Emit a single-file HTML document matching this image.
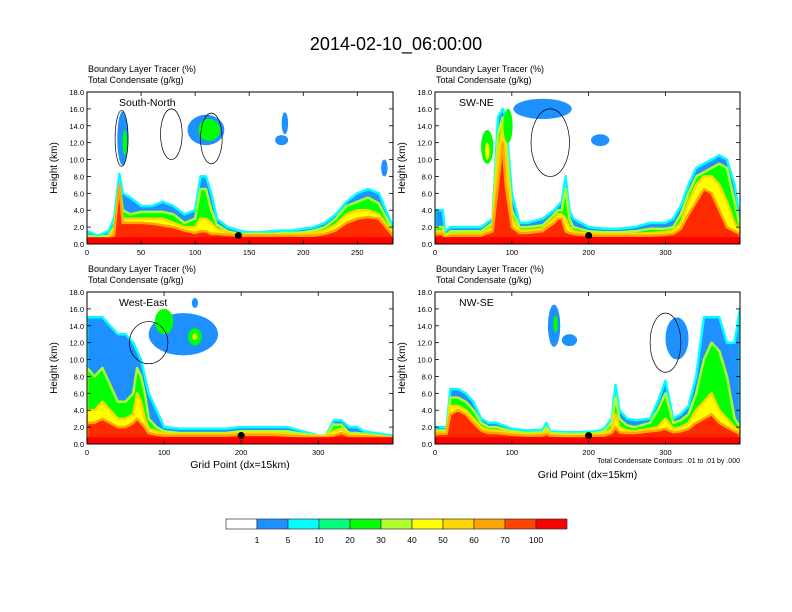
<!DOCTYPE html>
<html><head><meta charset="utf-8">
<style>
body{margin:0;background:#fff;}
svg{display:block;font-family:"Liberation Sans",sans-serif;}
</style></head>
<body>
<svg id="fig" width="792" height="612" viewBox="0 0 792 612" xmlns="http://www.w3.org/2000/svg">
<rect width="792" height="612" fill="#fff"/>
<text x="396" y="50" font-size="18" text-anchor="middle">2014-02-10_06:00:00</text>
<g id="panels"></g>
<g id="colorbar"></g>
</svg>
<script>
// ---- data ----
const levelColors = ["#1e90ff","#00ff00","#ffff00","#ff2a00"];
const cbColors = ["#ffffff","#1e90ff","#00ffff","#00ff80","#00ff00","#adff2f","#ffff00","#ffd700","#ffa500","#ff4500","#ff0000"];
const cbLabels = ["1","5","10","20","30","40","50","60","70","100"];
const yTicks = [0,2,4,6,8,10,12,14,16,18];

const p1x = [0,10,20,25,30,33,40,50,60,70,80,90,100,105,110,115,120,130,140,150,160,170,180,190,200,210,220,230,240,250,260,270,283];
const p1blue = [1.5,1.0,1.5,3,8.3,6,5.5,4.5,4.5,5,4.5,3.5,4,8,8,6,3,2,1.6,1.4,1.4,1.5,1.6,1.6,1.8,2,2.5,3.5,5,6,6.5,6,2];
const p1green = [1.0,0.8,1.0,2,7,4,3.5,3.8,3.8,3.8,3.5,2.5,3,6.5,6.5,4,2.3,1.5,1.2,1.2,1.2,1.2,1.3,1.3,1.4,1.6,2,3,4.5,5,5.5,4.8,1.5];
const p1yellow = [0.8,0.6,0.8,1.5,6,3,3,3,3,3,2.5,2,2,3,3,2.5,1.8,1.3,1.1,1.1,1.1,1.1,1.1,1.1,1.2,1.3,1.6,2.3,3.5,4,4,3.5,1.2];
const p1red = [0.6,0.5,0.6,1,7,2.5,2.5,2.5,2.4,2.2,2.0,1.6,1.3,1.5,1.5,1.2,1.2,1.1,1.0,1.0,1.0,1.0,1.0,1.0,1.0,1.0,1.2,1.6,2.5,3,3.2,3,1];
const p1blobs = [[33,12.5,5,3.2,0],[35,12,2,1.5,1],[110,13.5,17,1.8,0],[113,13.5,10,1.3,1],[180,12.3,6,0.6,0],[183,14.3,3,1.3,0],[275,9,3,1,0]];
const p1lines = [[78,13,10,3],[115,12.5,10,3],[32,12.5,6,3.3]];

const p2x = [0,10,13,20,40,60,75,82,88,92,100,110,120,140,155,160,165,170,175,180,200,220,240,260,280,300,310,320,330,340,350,360,370,380,390,397];
const p2blue = [4,4,1.5,2,2,2,3,15,16,15,6,2.5,2.5,3,4,4.5,5,8,4,3,2,1.8,1.8,2,2.5,2.5,3,4.5,7,9,9.5,10,10.5,10,7,3];
const p2green = [2,2,1,1.5,1.5,1.5,2.5,13,15,13,4,2,2,2.2,3.5,4,4,6.5,3,2,1.5,1.4,1.4,1.5,1.8,1.8,2,3.5,6,8,8.5,9,9.5,9,5,2];
const p2yellow = [1.5,1.5,0.8,1.2,1.2,1.2,2,10,14,10,3,1.6,1.6,1.8,3,3.5,3.5,3,2,1.5,1.2,1.2,1.2,1.2,1.3,1.4,1.6,2.5,5,7,8,8,7,5,2.5,1.5];
const p2red = [1.2,1.2,0.6,1,1,1,1.5,7,12,7,2,1.3,1.3,1.5,2.5,3,3,1.5,1.3,1.2,1,1,1,1,1,1.1,1.2,1.8,3.5,5,6.5,6,4,2,1.5,1.2];
const p2blobs = [[140,16,38,1.2,0],[215,12.3,12,0.7,0],[68,11.5,8,2,1],[68,11,3,1,2],[95,14,6,2,1]];
const p2lines = [[150,12,25,4]];

const p3x = [0,10,20,30,40,50,60,65,70,75,80,90,100,120,140,160,180,200,220,240,260,280,300,310,320,330,340,350,360,380,397];
const p3blue = [15,15,15,14,13,13,12,11,10,8,6,4,2,1.8,1.8,1.8,1.8,2,2,2,2,1.5,1,1,2.8,2.8,2,2,1.5,1.2,1];
const p3green = [9,8,9,7,5,5,6,9,8,6,3,2,1.5,1.3,1.3,1.3,1.3,1.5,1.5,1.5,1.5,1.2,1,1,2.3,2.3,1.3,1.3,1.2,1,0.8];
const p3yellow = [4,4,5,4,3,3,3.5,6,5,3,1.8,1.5,1.2,1.2,1.2,1.2,1.2,1.3,1.3,1.3,1.2,1,0.9,0.9,1.5,1.8,1.1,1.1,1,0.9,0.8];
const p3red = [2.5,2.5,3,2.5,2,2,2.5,3,2.5,2,1.3,1.1,1,1,1,1,1,1.1,1.1,1.1,1,0.9,0.8,0.8,1,1.3,0.9,0.9,0.9,0.8,0.7];
const p3blobs = [[125,13,45,2.5,0],[100,14.5,12,1.5,1],[140,12.7,9,1,1],[140,12.7,3,0.4,2],[140,16.7,4,0.6,0]];
const p3lines = [[80,12,25,2.5]];

const p4x = [0,15,20,30,40,50,60,70,80,100,120,140,145,150,170,190,210,220,230,235,240,250,260,280,290,300,310,320,330,340,350,360,370,380,390,397];
const p4blue = [2,2,6.5,6.5,6,5,3,2.5,2.5,1.8,1.6,1.7,2.5,1.5,1.4,1.4,1.5,1.8,3,7,4,3,2.8,3,5,7.5,3,3.5,4.5,8,15,15,15,12,12,16];
const p4green = [1.6,1.6,5.5,5.5,5,4,2.5,2,2,1.5,1.3,1.4,2,1.3,1.2,1.2,1.3,1.5,2.5,5.5,3,2.2,2,2.5,4,6,2.5,2.8,3.5,6,10,12,11,8,3,2];
const p4yellow = [1.4,1.4,4.5,4.5,4,3,2,1.6,1.6,1.3,1.1,1.2,1.6,1.1,1.0,1.0,1.1,1.2,1.8,3.5,2,1.6,1.5,1.8,2,3,1.8,2,2.5,4,5,6,4,3,2,1.5];
const p4red = [1.2,1.2,3.5,4,3.5,2.5,1.6,1.3,1.3,1.1,1,1,1.2,1,0.9,0.9,1,1,1.3,2,1.4,1.3,1.3,1.5,1.6,1.8,1.4,1.5,1.8,2.5,3,3.5,2.5,2,1.5,1.2];
const p4blobs = [[155,14,8,2.5,0],[157,14.2,3,1,1],[175,12.3,10,0.7,0],[315,12.5,15,2.5,0]];
const p4lines = [[300,12,20,3.5]];

const panels = [
 {name:"south-north",label:"South-North",x0:87,x1:393,y0:92,y1:244,xmax:283,xt:[0,50,100,150,200,250],xs:p1x,bands:[p1blue,p1green,p1yellow,p1red],blobs:p1blobs,lines:p1lines,dot:140,xtitle:null},
 {name:"sw-ne",label:"SW-NE",x0:435,x1:740,y0:92,y1:244,xmax:397,xt:[0,100,200,300],xs:p2x,bands:[p2blue,p2green,p2yellow,p2red],blobs:p2blobs,lines:p2lines,dot:200,xtitle:null},
 {name:"west-east",label:"West-East",x0:87,x1:393,y0:292,y1:444,xmax:397,xt:[0,100,200,300],xs:p3x,bands:[p3blue,p3green,p3yellow,p3red],blobs:p3blobs,lines:p3lines,dot:200,xtitle:468},
 {name:"nw-se",label:"NW-SE",x0:435,x1:740,y0:292,y1:444,xmax:397,xt:[0,100,200,300],xs:p4x,bands:[p4blue,p4green,p4yellow,p4red],blobs:p4blobs,lines:p4lines,dot:200,xtitle:478}
];

const NS="http://www.w3.org/2000/svg";
function mk(tag,attrs,parent,text){const e=document.createElementNS(NS,tag);for(const k in attrs)e.setAttribute(k,attrs[k]);if(text!=null)e.textContent=text;parent.appendChild(e);return e;}
const root=document.getElementById('panels');

panels.forEach((p,pi)=>{
  const g=mk('g',{},root);
  
  
  const sx=v=>p.x0+(v/p.xmax)*(p.x1-p.x0);
  const sy=v=>p.y1-(v/18)*(p.y1-p.y0);
  const clipId='clip'+pi;
  const cp=mk('clipPath',{id:clipId},g);mk('rect',{x:p.x0,y:p.y0,width:p.x1-p.x0,height:p.y1-p.y0},cp);
  const fg=mk('g',{'clip-path':'url(#'+clipId+')'},g);
  p.bands.forEach((arr,bi)=>{
    let d='M'+sx(p.xs[0])+','+sy(0);
    p.xs.forEach((x,i)=>{d+=' L'+sx(x).toFixed(1)+','+sy(arr[i]).toFixed(1);});
    d+=' L'+sx(p.xs[p.xs.length-1])+','+sy(0)+' Z';
    const strokes=['#00ffff','#adff2f','#ffd700','#ffa500'];
    const path=mk('path',{d:d,fill:levelColors[bi],stroke:strokes[bi],'stroke-width':2.5,'stroke-linejoin':'round'},fg);
    
    
  });
  const bl=mk('rect',{x:p.x0,y:sy(0.8),width:p.x1-p.x0,height:sy(0)-sy(0.8),fill:'#ff0000'},fg);
  
  
  p.blobs.forEach(b=>{
    const e=mk('ellipse',{cx:sx(b[0]),cy:sy(b[1]),rx:(b[2]/p.xmax)*(p.x1-p.x0),ry:(b[3]/18)*(p.y1-p.y0),fill:levelColors[b[4]]},fg);
    
    
  });
  p.lines.forEach(b=>{
    const e=mk('ellipse',{cx:sx(b[0]),cy:sy(b[1]),rx:(b[2]/p.xmax)*(p.x1-p.x0),ry:(b[3]/18)*(p.y1-p.y0),fill:'none',stroke:'#000','stroke-width':0.7},fg);
    
    
  });
  const dot=mk('circle',{cx:sx(p.dot),cy:sy(1),r:3.5,fill:'#000'},g);
  
  
  const fr=mk('rect',{x:p.x0,y:p.y0,width:p.x1-p.x0,height:p.y1-p.y0,fill:'none',stroke:'#000','stroke-width':1},g);
  
  
  yTicks.forEach(t=>{
    const y=sy(t);
    mk('line',{x1:p.x0,x2:p.x0+4,y1:y,y2:y,stroke:'#000','stroke-width':0.8},g);
    mk('line',{x1:p.x1,x2:p.x1-4,y1:y,y2:y,stroke:'#000','stroke-width':0.8},g);
    const tl=mk('text',{x:p.x0-3,y:y+3,'font-size':7.5,'text-anchor':'end'},g,t.toFixed(1));
    
    
  });
  p.xt.forEach(t=>{
    const x=sx(t);
    mk('line',{x1:x,x2:x,y1:p.y1,y2:p.y1-4,stroke:'#000','stroke-width':0.8},g);
    mk('line',{x1:x,x2:x,y1:p.y0,y2:p.y0+4,stroke:'#000','stroke-width':0.8},g);
    const tl=mk('text',{x:x,y:p.y1+11,'font-size':7.5,'text-anchor':'middle'},g,String(t));
    
    
  });
  const yt=mk('text',{x:0,y:0,'font-size':10,'text-anchor':'middle',transform:'translate('+(p.x0-30)+','+((p.y0+p.y1)/2)+') rotate(-90)'},g,'Height (km)');
  
  
  const h1=mk('text',{x:p.x0+1,y:p.y0-20,'font-size':9,'xml:space':'preserve'},g,'Boundary Layer Tracer    (%)');
  
  
  const h2=mk('text',{x:p.x0+1,y:p.y0-9,'font-size':9,'xml:space':'preserve'},g,'Total Condensate    (g/kg)');
  
  
  const lb=mk('text',{x:p.x0+(pi%2==0?32:24),y:p.y0+14,'font-size':10.5},g,p.label);
  
  
  if(p.xtitle){
    const xt=mk('text',{x:(p.x0+p.x1)/2,y:p.xtitle,'font-size':10.5,'text-anchor':'middle'},g,'Grid Point (dx=15km)');
    
    
  }
  if(pi==3){
    const n=mk('text',{x:p.x1,y:p.y1+19,'font-size':7,'text-anchor':'end'},g,'Total Condensate Contours: .01 to .01 by .000');
    
    
  }
});

const cb=document.getElementById('colorbar');
const cbx0=226,cbw=31,cby=519,cbh=10;
cbColors.forEach((c,i)=>{
  const r=mk('rect',{x:cbx0+i*cbw,y:cby,width:cbw,height:cbh,fill:c,stroke:'#333','stroke-width':0.7},cb);
  
  
});
cbLabels.forEach((l,i)=>{
  const t=mk('text',{x:cbx0+(i+1)*cbw,y:cby+24,'font-size':8.5,'text-anchor':'middle'},cb,l);
  
  
});
</script>
</body></html>
